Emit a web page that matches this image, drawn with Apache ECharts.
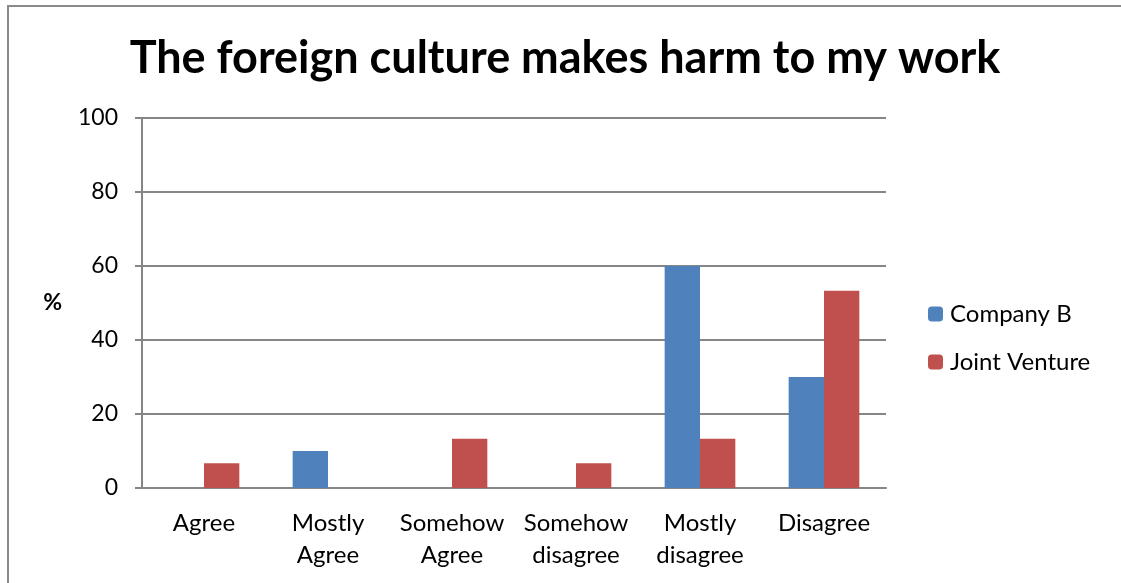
<!DOCTYPE html>
<html>
<head>
<meta charset="utf-8">
<script src="https://cdn.jsdelivr.net/npm/echarts@6/dist/echarts.min.js"></script>
<style>
  html, body { margin: 0; padding: 0; background: #fff; }
  #chart { width: 1121px; height: 583px; }
</style>
</head>
<body>
<div id="chart"></div>
<script>
// Survey answers, percent of respondents per group
const categories = ['Agree', 'Mostly\nAgree', 'Somehow\nAgree', 'Somehow\ndisagree', 'Mostly\ndisagree', 'Disagree'];
const companyB = [0, 10, 0, 0, 60, 30];
const jointVenture = [6.67, 0, 13.33, 6.67, 13.33, 53.33];
const yTicks = { min: 0, max: 100, interval: 20 };

const FONT = 'Lato, "Open Sans", sans-serif';
const GRID_GRAY = '#868686';

const chart = echarts.init(document.getElementById('chart'), null, { renderer: 'canvas' });

chart.setOption({
  backgroundColor: '#ffffff',
  animation: false,
  title: {
    text: 'The foreign culture makes harm to my work',
    left: 565,
    textAlign: 'center',
    top: 36,
    padding: 0,
    textStyle: { fontFamily: FONT, fontWeight: 'bold', fontSize: 45, color: '#000' }
  },
  legend: {
    orient: 'vertical',
    left: 928,
    top: 302,
    padding: 0,
    itemWidth: 15,
    itemHeight: 15,
    itemGap: 24,
    itemStyle: { borderWidth: 0 },
    textStyle: { fontFamily: FONT, fontSize: 24, color: '#000', padding: [0, 0, 0, 2] },
    data: ['Company B', 'Joint Venture']
  },
  grid: { left: 142, right: 235, top: 118, bottom: 95, containLabel: false },
  xAxis: {
    type: 'category',
    data: categories,
    axisLine: { show: true, lineStyle: { color: GRID_GRAY, width: 2 } },
    axisTick: { show: false },
    axisLabel: {
      fontFamily: FONT, fontSize: 24, color: '#000',
      margin: 19, lineHeight: 32, interval: 0
    }
  },
  yAxis: {
    type: 'value',
    min: yTicks.min,
    max: yTicks.max,
    interval: yTicks.interval,
    name: '%',
    nameLocation: 'middle',
    nameRotate: 0,
    nameGap: 80,
    nameTextStyle: { fontFamily: FONT, fontSize: 23, fontWeight: 'bold', color: '#000', padding: [0, 0, 70, 0] },
    axisLine: { show: true, lineStyle: { color: GRID_GRAY, width: 2 } },
    axisTick: { show: true, length: 7, lineStyle: { color: GRID_GRAY, width: 2 } },
    axisLabel: { fontFamily: FONT, fontSize: 23, color: '#000', margin: 24 },
    splitLine: { show: true, lineStyle: { color: GRID_GRAY, width: 2 } }
  },
  series: [
    {
      name: 'Company B',
      type: 'bar',
      data: companyB,
      barGap: '0%',
      barCategoryGap: '43%',
      itemStyle: { color: '#4F81BD' }
    },
    {
      name: 'Joint Venture',
      type: 'bar',
      data: jointVenture,
      barGap: '0%',
      barCategoryGap: '43%',
      itemStyle: { color: '#C0504D' }
    }
  ],
  graphic: [
    {
      // outer frame of the chart area
      type: 'polyline',
      silent: true,
      shape: { points: [[8, 600], [8, 6], [1121, 6]] },
      style: { stroke: '#8a8a8a', lineWidth: 2, fill: null }
    }
  ]
});
</script>
</body>
</html>
